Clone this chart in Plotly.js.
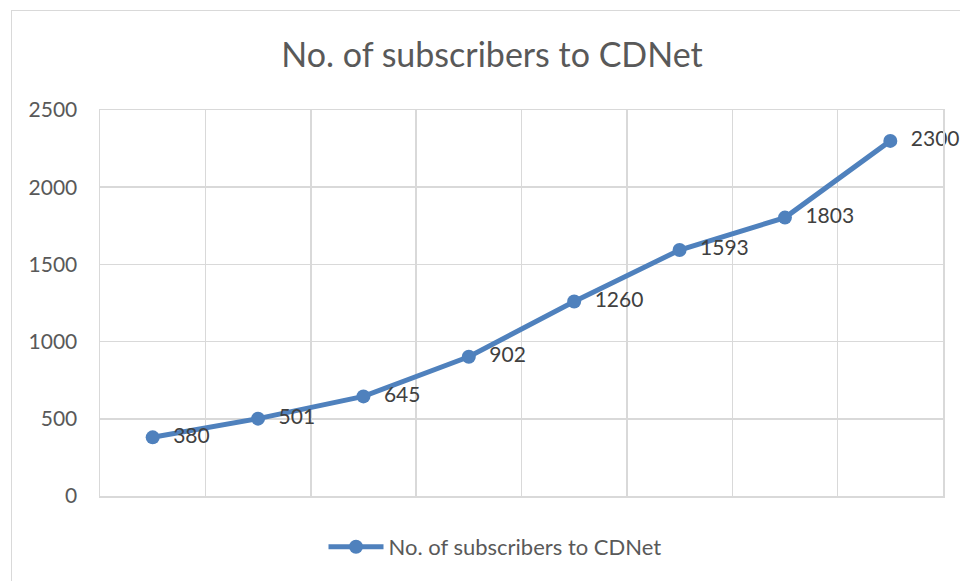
<!DOCTYPE html>
<html>
<head>
<meta charset="utf-8">
<script src="https://cdn.plot.ly/plotly-3.0.1.min.js"></script>
<style>
  html, body { margin: 0; padding: 0; background: #fff; }
  #wrap { position: relative; width: 960px; height: 581px; overflow: hidden; }
  #chart { position: absolute; left: 0; top: 0; width: 960px; height: 581px; }
  #frame { position: absolute; left: 11px; top: 10px; width: 1000px; height: 1000px;
           border: 1.5px solid #d9d9d9; pointer-events: none; }
</style>
</head>
<body>
<div id="wrap"><div id="chart"></div><div id="frame"></div></div>
<script>
const chartTitle = "No. of subscribers to CDNet";
const seriesName = "No. of subscribers to CDNet";
const categories = [1, 2, 3, 4, 5, 6, 7, 8];
const subscribers = [380, 501, 645, 902, 1260, 1593, 1803, 2300];
const yTickValues = [0, 500, 1000, 1500, 2000, 2500];

const blue = "#4f81bd";
const fontFamily = "Lato, 'Open Sans', sans-serif";

const trace = {
  type: "scatter",
  mode: "lines+markers+text",
  name: seriesName,
  x: categories,
  y: subscribers,
  text: subscribers.map(String),
  texttemplate: "\u00a0\u00a0%{text}",
  textposition: "middle right",
  textfont: { family: fontFamily, size: 21, color: "#404040" },
  line: { color: blue, width: 5 },
  marker: { color: blue, size: 14 },
  cliponaxis: false
};

const layout = {
  width: 960, height: 581,
  margin: { l: 100, r: 17, t: 110, b: 85 },
  paper_bgcolor: "#ffffff",
  plot_bgcolor: "#ffffff",
  title: {
    text: chartTitle,
    font: { family: fontFamily, size: 34, color: "#595959" },
    x: 492 / 960, xref: "container", xanchor: "center",
    y: 1 - 55 / 581, yref: "container", yanchor: "middle"
  },
  xaxis: {
    range: [0.5, 8.5],
    tickmode: "linear", tick0: 0.5, dtick: 1,
    showticklabels: false,
    showgrid: true, gridcolor: "#d9d9d9", gridwidth: 1.5,
    zeroline: false, showline: true, linecolor: "#d9d9d9", linewidth: 1.5,
    mirror: true, ticks: "", fixedrange: true
  },
  yaxis: {
    range: [0, 2500],
    tickmode: "array", tickvals: yTickValues, ticktext: yTickValues.map(String),
    tickfont: { family: fontFamily, size: 21, color: "#595959" },
    ticklabelstandoff: 17,
    showgrid: true, gridcolor: "#d9d9d9", gridwidth: 1.5,
    zeroline: false, showline: true, linecolor: "#d9d9d9", linewidth: 1.5,
    mirror: true, ticks: "", fixedrange: true
  },
  showlegend: true,
  legend: {
    orientation: "h",
    x: 495 / 960, xref: "container", xanchor: "center",
    y: 34 / 581, yref: "container", yanchor: "middle",
    font: { family: fontFamily, size: 22, color: "#595959" },
    itemwidth: 55,
    bgcolor: "rgba(0,0,0,0)"
  },
  hovermode: false
};

Plotly.newPlot("chart", [trace], layout, { staticPlot: true, displayModeBar: false });
</script>
</body>
</html>
